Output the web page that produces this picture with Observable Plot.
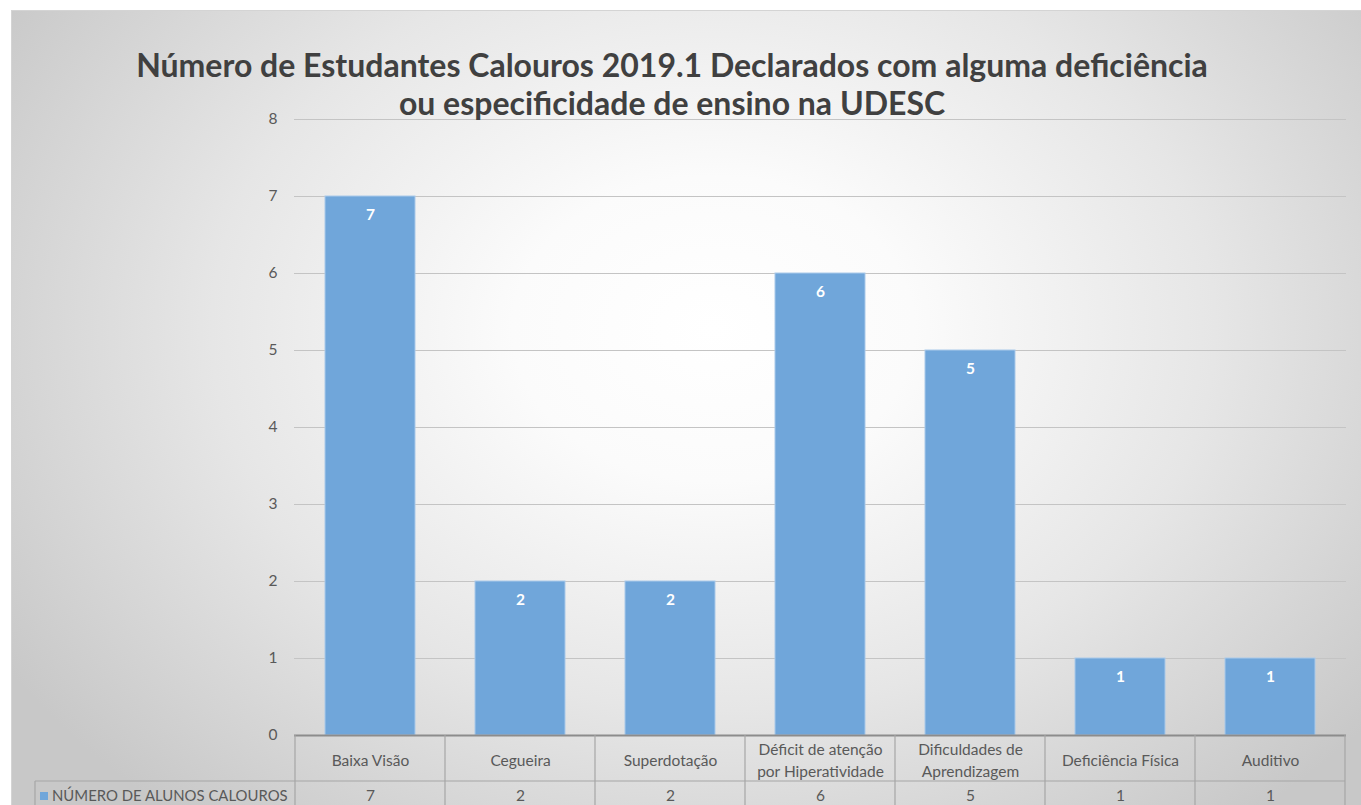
<!DOCTYPE html>
<html>
<head>
<meta charset="utf-8">
<script src="https://cdn.jsdelivr.net/npm/d3@7"></script>
<script src="https://cdn.jsdelivr.net/npm/@observablehq/plot@0.6"></script>
<style>
html, body { margin: 0; padding: 0; background: #fff; }
#wrap { position: relative; width: 1361px; height: 805px; overflow: hidden; background: #fff; font-family: Lato, "Open Sans", sans-serif; }
#bg { position: absolute; left: 11px; top: 10px; right: 0; bottom: 0;
  background: radial-gradient(ellipse 62% 80% at 52% 40%, #ffffff 0%, #fbfbfb 24%, #e6e6e6 60%, #c8c8c8 100%);
  border-top: 1px solid #d4d4d4; border-left: 1px solid #d4d4d4; }
#title { position: absolute; left: 0; width: 1344px; top: 46px; text-align: center; font-weight: 700; font-size: 32px; line-height: 38px; color: #404040; }
#chart { position: absolute; left: 0; top: 0; }
</style>
</head>
<body>
<div id="wrap">
  <div id="bg"></div>
  <div id="chart"></div>
  <div id="title">Número de Estudantes Calouros 2019.1 Declarados com alguma deficiência<br>ou especificidade de ensino na UDESC</div>
</div>
<script>
const categories = ["Baixa Visão", "Cegueira", "Superdotação", "Déficit de atenção por Hiperatividade", "Dificuldades de Aprendizagem", "Deficiência Física", "Auditivo"];
const values = [7, 2, 2, 6, 5, 1, 1];
const yTicks = [0, 1, 2, 3, 4, 5, 6, 7, 8];
const seriesName = "NÚMERO DE ALUNOS CALOUROS";

const data = categories.map((c, i) => ({cat: c, value: values[i]}));
const barColor = "#70a6da";
const textColor = "#595959";
const lineColor = "#a6a6a6";
const fontFamily = "Lato, 'Open Sans', sans-serif";
const fs = 15.5;

const chart = Plot.plot({
  width: 1361,
  height: 805,
  marginLeft: 294,
  marginRight: 15,
  marginTop: 119,
  marginBottom: 70,
  style: {background: "transparent", fontFamily: fontFamily, fontSize: fs + "px", color: textColor, overflow: "visible"},
  x: {domain: categories, paddingInner: 0.4, paddingOuter: 0.2, axis: null},
  y: {domain: [0, 8], label: null},
  marks: [
    Plot.gridY(yTicks, {stroke: "#c4c4c4", strokeOpacity: 1}),
    Plot.axisY(yTicks, {tickSize: 0, tickPadding: 17, tickFormat: "d", fontSize: fs, fill: textColor, label: null}),
    Plot.barY(data, {x: "cat", y: "value", fill: barColor, stroke: "#a9c9ea", strokeWidth: 1}),
    Plot.text(data, {x: "cat", y: "value", text: d => String(d.value), dy: 19, fill: "white", fontWeight: "bold", fontSize: fs}),
    Plot.ruleY([0], {stroke: "#8c8c8c", strokeWidth: 2}),
    Plot.text(data, {x: "cat", text: "cat", frameAnchor: "bottom", lineAnchor: "middle", dy: 23, lineWidth: 9.5, lineHeight: 1.42, fill: textColor, fontSize: fs}),
    Plot.text(data, {x: "cat", text: d => String(d.value), frameAnchor: "bottom", lineAnchor: "middle", dy: 61, fill: textColor, fontSize: fs})
  ]
});

document.getElementById("chart").appendChild(chart);

// data table grid drawn from the plot's own scales
const xs = chart.scale("x");
const ys = chart.scale("y");
const step = xs.step;
const gap = step - xs.bandwidth;
const y0 = ys.apply(0);
const yBottom = 805;
const ySep = y0 + 46;
const boundaries = [];
categories.forEach((c, i) => { boundaries.push(xs.apply(c) - gap / 2); });
boundaries.push(xs.apply(categories[categories.length - 1]) + xs.bandwidth + gap / 2);
const legendLeft = 35;

const g = d3.select(chart).append("g").attr("stroke", lineColor).attr("stroke-width", 1.2);
boundaries.forEach(bx => {
  g.append("line").attr("x1", bx).attr("x2", bx).attr("y1", y0).attr("y2", yBottom);
});
g.append("line").attr("x1", legendLeft).attr("x2", boundaries[boundaries.length - 1]).attr("y1", ySep).attr("y2", ySep);
g.append("line").attr("x1", legendLeft).attr("x2", legendLeft).attr("y1", ySep).attr("y2", yBottom);

const lg = d3.select(chart).append("g");
lg.append("rect").attr("x", legendLeft + 5).attr("y", y0 + 57).attr("width", 8).attr("height", 8).attr("fill", barColor);
lg.append("text").attr("x", legendLeft + 17).attr("y", y0 + 61).attr("dy", "0.35em")
  .attr("text-anchor", "start")
  .attr("fill", textColor).attr("font-size", 14.9).attr("font-family", fontFamily).text(seriesName);
</script>
</body>
</html>
